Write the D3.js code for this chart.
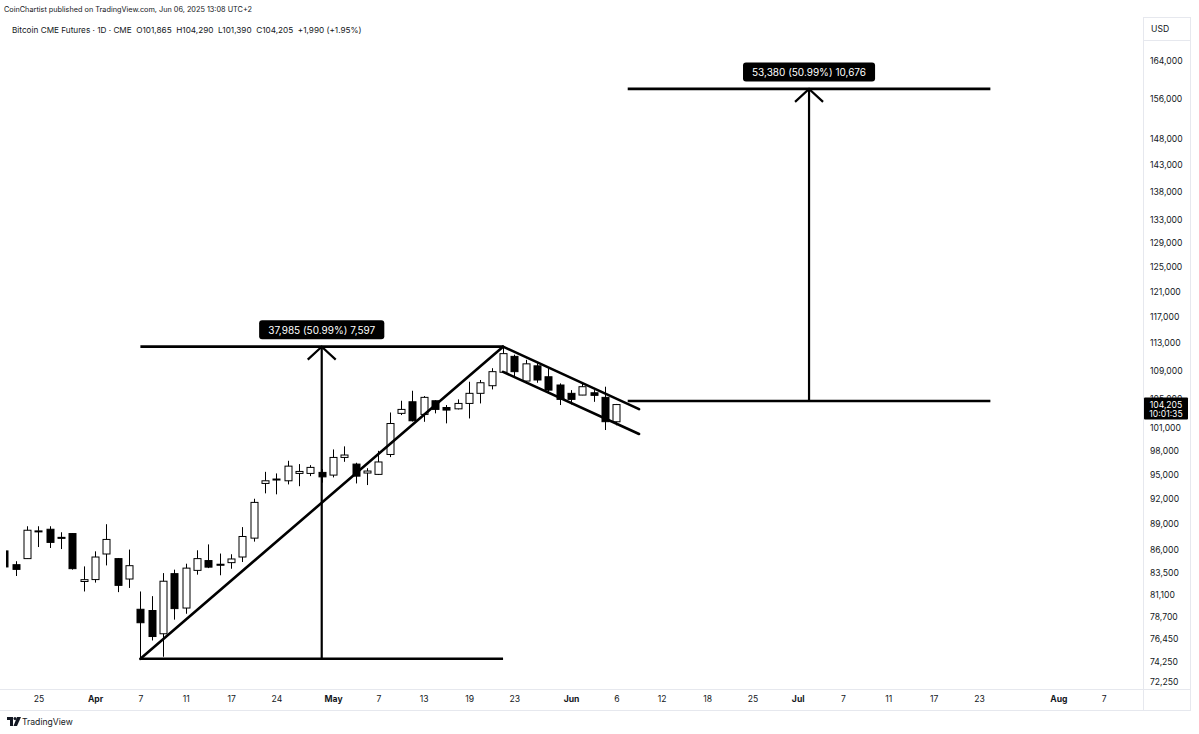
<!DOCTYPE html>
<html><head><meta charset="utf-8">
<script src="https://cdn.jsdelivr.net/npm/d3@7"></script>
<style>
html,body{margin:0;padding:0;background:#fff;}
svg{display:block;font-family:Inter,"Noto Sans",sans-serif;}
</style></head>
<body>
<svg id="chart" width="1199" height="734"></svg>
<script>
// ---------- DATA ----------
const dates = ["2025-03-20","2025-03-21","2025-03-24","2025-03-25","2025-03-26","2025-03-27","2025-03-28","2025-03-31",
"2025-04-01","2025-04-02","2025-04-03","2025-04-04","2025-04-07","2025-04-08","2025-04-09","2025-04-10","2025-04-11",
"2025-04-14","2025-04-15","2025-04-16","2025-04-17","2025-04-21","2025-04-22","2025-04-23","2025-04-24","2025-04-25",
"2025-04-28","2025-04-29","2025-04-30","2025-05-01","2025-05-02","2025-05-05","2025-05-06","2025-05-07","2025-05-08",
"2025-05-09","2025-05-12","2025-05-13","2025-05-14","2025-05-15","2025-05-16","2025-05-19","2025-05-20","2025-05-21",
"2025-05-22","2025-05-23","2025-05-27","2025-05-28","2025-05-29","2025-05-30","2025-06-02","2025-06-03","2025-06-04",
"2025-06-05","2025-06-06"];
const opens  = [85900,84350,85030,88100,88390,87450,87890,82500,82710,85550,85030,82770,79530,79400,77000,83360,79660,
83720,84810,84400,84580,85210,87360,93900,94400,94230,95150,95150,95280,94940,97180,96330,95200,95030,97560,
103000,104590,102860,104730,103800,103620,104360,105760,106830,108740,111050,107490,109670,108100,106930,105760,105520,105840,105200,101865];
const highs  = [86100,84740,88740,88740,88740,88040,87950,84160,85850,88980,85100,86050,81420,80920,83420,83800,84460,
85970,86640,85600,85520,88640,92020,95350,95150,96750,96330,96200,95700,98210,98610,96500,95810,98030,103120,
104730,106120,105380,104800,104140,104920,107390,107640,109330,112480,111300,110540,110060,109330,107160,106210,107160,106210,106690,104290];
const lows   = [83900,83100,85000,86340,86230,86110,83800,81420,82380,84270,81350,81800,74500,76320,74700,78450,79060,
83250,83970,83180,83900,84650,86960,92680,92560,93780,93560,94810,94000,94650,96620,93900,93700,94950,97220,
102770,101900,101860,103000,101650,103540,102310,104360,106310,108700,108100,107160,107250,105760,104140,104220,105500,104580,100760,101390];
const closes = [84100,83830,88275,88200,86870,87400,83910,82700,85210,87210,82080,84240,78130,76720,82530,79600,83970,
85030,84080,84350,84990,87550,91580,94230,94450,96070,95400,95910,94720,97180,97490,94810,95450,96600,101630,
103540,102000,105200,103540,103450,104360,105760,107250,108830,111450,108830,109960,107640,106210,104920,104920,106690,105480,101875,104205];

const holidays = ["2025-04-18","2025-05-26","2025-06-19"];

const yTicks = [164000,156000,148000,143000,138000,133000,129000,125000,121000,117000,113000,109000,105000,101000,
98000,95000,92000,89000,86000,83500,81100,78700,76450,74250,72250];

const xTickDates  = ["2025-03-25","2025-04-01","2025-04-07","2025-04-11","2025-04-17","2025-04-24","2025-05-01","2025-05-07",
"2025-05-13","2025-05-19","2025-05-23","2025-06-02","2025-06-06","2025-06-12","2025-06-18","2025-06-25","2025-07-01",
"2025-07-07","2025-07-11","2025-07-17","2025-07-23","2025-08-01","2025-08-07"];
const xTickLabels = ["25","Apr","7","11","17","24","May","7","13","19","23","Jun","6","12","18","25","Jul","7","11","17","23","Aug","7"];
const monthLabels = ["Apr","May","Jun","Jul","Aug"];

// measurement tools (date range, arrow date, from price, to price, label)
const measureFrom   = ["2025-04-07","2025-06-09"];
const measureTo     = ["2025-05-22","2025-07-24"];
const measureArrow  = ["2025-04-30","2025-07-02"];
const measureLow    = [74495,104690];
const measureHigh   = [112480,158070];
const measureLabels = ["37,985 (50.99%) 7,597","53,380 (50.99%) 10,676"];

// trend lines [date1, price1, date2, price2]
const trendLines = [
  ["2025-04-07",74495,"2025-05-22",112480],
  ["2025-05-22",112480,"2025-06-10",103580],
  ["2025-05-22",108800,"2025-06-10",100230]
];

const headerTop = "CoinChartist published on TradingView.com, Jun 06, 2025 13:08 UTC+2";
const headerSym = "Bitcoin CME Futures · 1D · CME  O101,865  H104,290  L101,390  C104,205  +1,990 (+1.95%)";
const lastPrice = 104205;
const lastPriceText = ["104,205","10:01:35"];

// ---------- SCALES ----------
const fmt = d3.timeFormat("%Y-%m-%d");
const parse = d3.timeParse("%Y-%m-%d");
const days = d3.timeDay.range(parse("2025-03-20"), parse("2025-08-09"))
  .filter(d => d.getDay() !== 0 && d.getDay() !== 6 && !holidays.includes(fmt(d)));
const idx = new Map(days.map((d,i)=>[fmt(d),i]));

const plot = {left:6, right:1143, top:17, bottom:689};
const x = d3.scaleLinear().domain([0,97]).range([4.4,1103.7]);
const y = d3.scaleLog().domain([72250,164000]).range([682,61]);
const X = d => x(idx.get(d));

const svg = d3.select("#chart");
const ink = "#131722";

// frame lines
const frame = svg.append("g").attr("stroke","#e6e8ee").attr("stroke-width",1);
frame.append("line").attr("x1",0).attr("x2",1191).attr("y1",689.5).attr("y2",689.5);
frame.append("line").attr("x1",0).attr("x2",1191).attr("y1",710.5).attr("y2",710.5);
frame.append("line").attr("x1",1143.5).attr("x2",1143.5).attr("y1",17).attr("y2",711);
frame.append("line").attr("x1",1190.5).attr("x2",1190.5).attr("y1",17).attr("y2",711);
frame.append("line").attr("x1",1143).attr("x2",1191).attr("y1",17.5).attr("y2",17.5);
frame.append("line").attr("x1",1143).attr("x2",1191).attr("y1",40.5).attr("y2",40.5);

// clip
svg.append("defs").append("clipPath").attr("id","clip")
  .append("rect").attr("x",plot.left).attr("y",plot.top)
  .attr("width",plot.right-plot.left).attr("height",plot.bottom-plot.top);

const g = svg.append("g").attr("clip-path","url(#clip)");

// candles
const candles = dates.map((d,i)=>({d, o:opens[i], h:highs[i], l:lows[i], c:closes[i]}));
const bw = 8;
const cg = g.append("g");
cg.selectAll("line.wick").data(candles).join("line")
  .attr("x1",c=>Math.round(X(c.d))+0.5).attr("x2",c=>Math.round(X(c.d))+0.5)
  .attr("y1",c=>y(c.h)).attr("y2",c=>y(c.l))
  .attr("stroke","#000").attr("stroke-width",1);
cg.selectAll("rect.body").data(candles).join("rect")
  .attr("x",c=>Math.round(X(c.d))-bw/2+1).attr("width",bw-1)
  .attr("y",c=>y(Math.max(c.o,c.c)))
  .attr("height",c=>Math.max(1,Math.abs(y(c.o)-y(c.c))))
  .attr("fill",c=>c.c>=c.o?"#fff":"#000")
  .attr("stroke","#000").attr("stroke-width",1);

// trend lines
g.selectAll("line.trend").data(trendLines).join("line")
  .attr("x1",t=>X(t[0])).attr("y1",t=>y(t[1]))
  .attr("x2",t=>X(t[2])).attr("y2",t=>y(t[3]))
  .attr("stroke","#000").attr("stroke-width",2.6).attr("stroke-linecap","round");

// measurement tools
measureLabels.forEach((lab,i)=>{
  const x1 = X(measureFrom[i]), x2 = X(measureTo[i]), xa = X(measureArrow[i]);
  const yl = y(measureLow[i]), yh = y(measureHigh[i]);
  const m = g.append("g");
  m.append("line").attr("x1",x1).attr("x2",x2).attr("y1",yl).attr("y2",yl)
    .attr("stroke","#000").attr("stroke-width",2.6);
  m.append("line").attr("x1",x1).attr("x2",x2).attr("y1",yh).attr("y2",yh)
    .attr("stroke","#000").attr("stroke-width",2.6);
  m.append("line").attr("x1",xa).attr("x2",xa).attr("y1",yl).attr("y2",yh)
    .attr("stroke","#000").attr("stroke-width",2.2);
  m.append("path").attr("d",`M${xa-14},${yh+13} L${xa},${yh} L${xa+14},${yh+13}`)
    .attr("fill","none").attr("stroke","#000").attr("stroke-width",2.2);
  const t = m.append("text").attr("x",xa).attr("y",yh-16.5).attr("text-anchor","middle")
    .attr("dominant-baseline","central").attr("fill","#fff").attr("font-size",10).text(lab);
  const bb = t.node().getBBox();
  m.insert("rect","text").attr("x",xa-(bb.width+18)/2).attr("width",bb.width+18)
    .attr("y",yh-26.5).attr("height",19).attr("rx",3).attr("fill","#000");
});

// y axis
const yAxis = d3.axisRight(y).tickValues(yTicks).tickSize(0).tickPadding(7)
  .tickFormat(d3.format(","));
const ya = svg.append("g").attr("transform",`translate(${plot.right},0)`).call(yAxis);
ya.select(".domain").remove();
ya.selectAll("text").attr("font-size",8.6).attr("fill",ink).attr("font-family","Inter,sans-serif");
svg.append("text").attr("x",1151).attr("y",29).attr("dominant-baseline","central")
  .attr("font-size",8.6).attr("fill",ink).text("USD");

// last price label
const ly = y(lastPrice);
svg.append("rect").attr("x",1144).attr("y",ly-7).attr("width",44).attr("height",22).attr("rx",1).attr("fill","#000");
svg.append("text").attr("x",1166).attr("y",ly).attr("text-anchor","middle").attr("dominant-baseline","central")
  .attr("font-size",8.6).attr("fill","#fff").text(lastPriceText[0]);
svg.append("text").attr("x",1166).attr("y",ly+9.5).attr("text-anchor","middle").attr("dominant-baseline","central")
  .attr("font-size",8.6).attr("fill","#fff").text(lastPriceText[1]);

// x axis
const xAxis = d3.axisBottom(x).tickValues(xTickDates.map(d=>idx.get(d))).tickSize(0).tickPadding(7)
  .tickFormat((d,i)=>xTickLabels[i]);
const xa = svg.append("g").attr("transform",`translate(0,${plot.bottom})`).call(xAxis);
xa.select(".domain").remove();
xa.selectAll("text").attr("font-size",8.6).attr("fill",ink).attr("font-family","Inter,sans-serif")
  .attr("font-weight",(d,i)=>monthLabels.includes(xTickLabels[i])?700:400);

// headers
svg.append("text").attr("x",4).attr("y",9).attr("dominant-baseline","central")
  .attr("font-size",7.3).attr("fill",ink).text(headerTop);
svg.append("text").attr("x",12).attr("y",30).attr("dominant-baseline","central")
  .attr("font-size",8.2).attr("fill",ink).attr("xml:space","preserve").style("white-space","pre").text(headerSym);

// TradingView logo
const logo = svg.append("g").attr("transform","translate(7,717)");
logo.append("path").attr("d","M0,0 H6 V9 H3 V3 H0 Z").attr("fill",ink);
logo.append("circle").attr("cx",8).attr("cy",1.5).attr("r",1.5).attr("fill",ink);
logo.append("path").attr("d","M10,0 H14 L10,9 H6.5 Z").attr("fill",ink);
svg.append("text").attr("x",22).attr("y",722).attr("dominant-baseline","central")
  .attr("font-size",8.6).attr("fill",ink).text("TradingView");
</script>
</body></html>
